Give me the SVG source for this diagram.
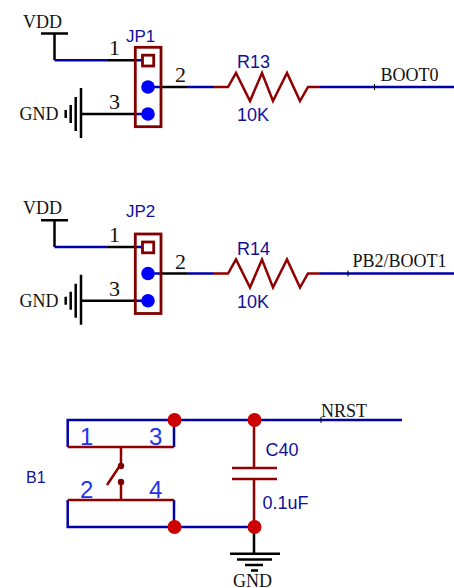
<svg xmlns="http://www.w3.org/2000/svg" width="454" height="588" viewBox="0 0 454 588">
<style>
.w{fill:none;stroke:#0000a8;stroke-width:2.5}
.k{fill:none;stroke:#000;stroke-width:2.5}
.r{fill:none;stroke:#900000;stroke-width:2.5}
.box{fill:none;stroke:#800000;stroke-width:2.8}
.sq{fill:#fff;stroke:#800000;stroke-width:2.8}
.tk{fill:none;stroke:#000;stroke-width:1}
.p{fill:#0000ff}
.j{fill:#cc0000}
.d{fill:#800000}
.t{font-family:"Liberation Serif",serif;fill:#111;font-size:18px}
.n{font-family:"Liberation Serif",serif;fill:#111;font-size:22px}
.l{font-family:"Liberation Sans",Arial,sans-serif;fill:#10109c;font-size:18px}
.s{font-family:"Liberation Sans",Arial,sans-serif;fill:#10109c;font-size:17px}
.u{font-family:"Liberation Sans",Arial,sans-serif;fill:#10109c;font-size:16px}
.b{font-family:"Liberation Sans",Arial,sans-serif;fill:#2233f0;font-size:24px}
</style>
<defs>
<g id="gnd-v"><path class="k" d="M81 88V138M75.700 97V131M70.700 105V123M65.700 110V118"/></g>
<path id="zig" class="r" d="M214 87H228L236 73L250 101L262 73L273 101L287 73L300 101L308 87H320"/>
</defs>
<g id="connectors">
<path class="k" d="M41 33.500H68M54.500 33.500V60"/>
<path class="w" d="M54.500 60.300H108M137 60.300H142M148 87H160M187 87H214M320 87H454M135 114H148"/>
<path class="k" d="M108 60.300H137M160 87H187M81 114H135"/>
<path class="tk" d="M374.500 84V90"/>
<use href="#gnd-v"/><use href="#zig"/>
<path class="k" d="M41 220.300H68M54.500 220.300V247"/>
<path class="w" d="M54.500 247H108M137 247H142M148 273.500H160M187 273.500H214M320 273.500H454M135 300.700H148"/>
<path class="k" d="M108 247H137M160 273.500H187M81 300.700H135"/>
<path class="tk" d="M348 270.500V276.500"/>
<use href="#gnd-v" y="186.700"/><use href="#zig" y="186.500"/>
<path class="w" d="M174 420H67.700V447M67.700 500V527H254M174 420V447M174 500V527M174 420H402"/>
<path class="r" d="M67.700 447H174M67.700 500H174M121 447V466M121 482V500M107 485L121 464"/>
<path class="r" d="M254 420V468M254 479V527M232 468H277M232 479H277"/>
<path class="k" d="M254 527V553.700M230 553.700H280M237 559.500H272M245 565H263M251 570.500H258"/>
<path class="tk" d="M321 417V423"/>
</g>
<g id="JP1">
<rect class="box" x="135.300" y="47.300" width="25.700" height="79.400"/>
<rect class="sq" x="142.500" y="55.200" width="11.200" height="10.800"/>
<circle class="p" cx="148" cy="87" r="6.800"/><circle class="p" cx="148" cy="114" r="6.800"/>
<text class="s" x="126" y="41.500">JP1</text>
<text class="n" x="109" y="55">1</text><text class="n" x="175" y="82">2</text><text class="n" x="109" y="109">3</text>
</g>
<g id="VDD1"><text class="t" x="23" y="28">VDD</text></g>
<g id="GND1"><text class="t" x="19.500" y="120">GND</text></g>
<g id="R13"><text class="l" x="237" y="68">R13</text><text class="l" x="237" y="121">10K</text></g>
<g id="BOOT0"><text class="t" x="380.500" y="80.700">BOOT0</text></g>
<g id="JP2">
<rect class="box" x="135.300" y="234" width="25.700" height="79.500"/>
<rect class="sq" x="142.500" y="242" width="11.200" height="10.800"/>
<circle class="p" cx="148" cy="273.500" r="6.800"/><circle class="p" cx="148" cy="300.700" r="6.800"/>
<text class="s" x="126" y="216.500">JP2</text>
<text class="n" x="109" y="241.500">1</text><text class="n" x="175" y="268.500">2</text><text class="n" x="109" y="295.500">3</text>
</g>
<g id="VDD2"><text class="t" x="23" y="214.300">VDD</text></g>
<g id="GND2"><text class="t" x="19.500" y="306.700">GND</text></g>
<g id="R14"><text class="l" x="237" y="255">R14</text><text class="l" x="237" y="308">10K</text></g>
<g id="BOOT1"><text class="t" x="352.500" y="266.700">PB2/BOOT1</text></g>
<g id="B1">
<circle class="d" cx="121" cy="466" r="3.200"/><circle class="d" cx="121" cy="482" r="3.200"/>
<text class="u" x="26" y="483">B1</text>
<text class="b" x="80" y="445">1</text><text class="b" x="149" y="445">3</text>
<text class="b" x="80" y="498">2</text><text class="b" x="149" y="498">4</text>
</g>
<g id="C40"><text class="l" x="265.500" y="456">C40</text><text class="l" x="262.500" y="509">0.1uF</text></g>
<g id="NRST"><text class="t" x="321" y="416.700">NRST</text></g>
<g id="GND3"><text class="t" x="233" y="586.500">GND</text></g>
<g id="junctions">
<circle class="j" cx="174.500" cy="420" r="7"/><circle class="j" cx="254.500" cy="420" r="7"/>
<circle class="j" cx="174.500" cy="527" r="7"/><circle class="j" cx="254.500" cy="527" r="7"/>
</g>
</svg>
